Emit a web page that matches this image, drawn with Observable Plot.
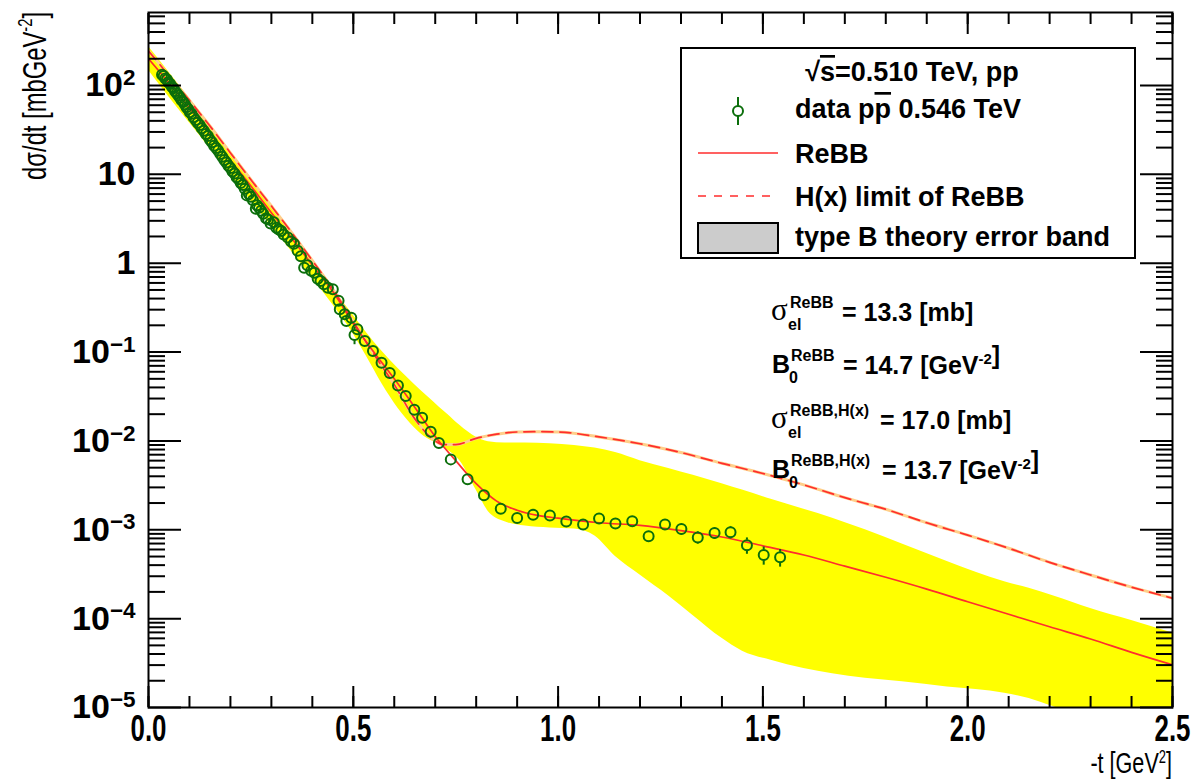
<!DOCTYPE html>
<html><head><meta charset="utf-8">
<script src="https://cdn.jsdelivr.net/npm/d3@7"></script>
<script src="https://cdn.jsdelivr.net/npm/@observablehq/plot@0.6"></script>
<style>
html,body{margin:0;padding:0;background:#fff;}
#wrap{position:relative;width:1201px;height:781px;overflow:hidden;}
</style></head><body><div id="wrap"></div><script>
// ---------- data ----------
const dataT = [0.033,0.037,0.041,0.045,0.049,0.053,0.057,0.061,0.065,0.069,0.073,0.077,0.081,0.085,0.089,0.093,0.097,0.101,0.105,0.110,0.115,0.120,0.125,0.130,0.135,0.140,0.145,0.150,0.155,0.160,0.165,0.170,0.175,0.180,0.185,0.190,0.195,0.200,0.205,0.210,0.215,0.220,0.225,0.230,0.235,0.240,0.245,0.250,0.255,0.262,0.265,0.270,0.275,0.280,0.287,0.292,0.298,0.306,0.312,0.318,0.324,0.330,0.340,0.348,0.355,0.364,0.372,0.380,0.388,0.397,0.405,0.413,0.420,0.428,0.438,0.450,0.464,0.467,0.479,0.483,0.495,0.503,0.510,0.528,0.548,0.569,0.589,0.609,0.628,0.649,0.668,0.689,0.709,0.738,0.779,0.819,0.860,0.900,0.939,0.980,1.020,1.061,1.100,1.140,1.181,1.221,1.261,1.301,1.341,1.382,1.421,1.461,1.502,1.542];
const dataY = [132,128,120,117,108,104,97,93,86,82,77,73,68,65,61,57,54,50,48,44,41,38,36,33,31,28.5,27,24.5,23,21,19.8,18.5,17,15.8,14.5,13.6,12.5,11.8,10.8,10.2,9.3,8.8,8.0,7.6,6.9,5.8,6.0,5.6,5.1,4.1,4.5,4.2,3.9,3.6,3.2,3.1,2.8,2.9,2.5,2.4,2.3,2.1,1.95,1.75,1.66,1.38,1.2,0.89,0.95,0.82,0.78,0.67,0.63,0.58,0.53,0.51,0.377,0.303,0.267,0.224,0.244,0.156,0.181,0.133,0.103,0.076,0.058,0.042,0.032,0.0224,0.0182,0.0127,0.0095,0.0062,0.0037,0.00245,0.00173,0.00136,0.00148,0.00145,0.00124,0.00115,0.00134,0.00118,0.00125,0.000845,0.00115,0.00102,0.00082,0.00092,0.00094,0.00067,0.00052,0.00049];
const dataErr = [4,4,4,3.5,3.3,3.1,2.9,2.8,2.6,2.5,2.3,2.2,2.0,2.0,1.8,1.7,1.6,1.5,1.4,1.3,1.2,1.1,1.1,1.0,0.9,0.9,0.8,0.7,0.7,0.6,0.6,0.6,0.5,0.5,0.4,0.4,0.4,0.4,0.3,0.3,0.3,0.3,0.25,0.25,0.2,0.2,0.2,0.2,0.15,0.15,0.15,0.15,0.12,0.12,0.1,0.1,0.1,0.1,0.08,0.08,0.08,0.07,0.07,0.06,0.06,0.05,0.05,0.04,0.04,0.04,0.03,0.03,0.03,0.03,0.03,0.03,0.02,0.02,0.02,0.015,0.015,0.035,0.012,0.01,0.008,0.006,0.005,0.004,0.003,0.002,0.0017,0.0012,0.001,0.0007,0.0004,0.0003,0.0002,0.00017,0.00018,0.00018,0.00016,0.00015,0.00017,0.00016,0.00017,0.00012,0.00016,0.00015,0.00013,0.00014,0.00015,0.00014,0.00012,0.00011];

const rebbT = [0,0.05,0.1,0.15,0.2,0.25,0.3,0.35,0.4,0.45,0.5,0.55,0.6,0.65,0.7,0.75,0.8,0.85,0.9,0.95,1.0,1.1,1.2,1.3,1.4,1.5,1.6,1.7,1.8,1.9,2.0,2.1,2.2,2.3,2.4,2.5];
const rebbY = [200,107,56,29,14.5,7.4,3.7,1.9,0.95,0.48,0.21,0.10,0.050,0.024,0.0112,0.0060,0.0033,0.0021,0.00166,0.00145,0.00135,0.0012,0.00112,0.00098,0.00083,0.00066,0.00052,0.00039,0.000292,0.000215,0.000155,0.000112,0.000081,0.000059,0.0000417,0.0000302];

const hxT = [0,0.05,0.1,0.15,0.2,0.25,0.3,0.35,0.4,0.45,0.5,0.55,0.6,0.65,0.7,0.72,0.75,0.8,0.85,0.9,0.95,1.0,1.1,1.2,1.3,1.4,1.5,1.6,1.7,1.8,1.9,2.0,2.1,2.2,2.3,2.4,2.5];
const hxY = [245,129,68,35,17.4,8.7,4.4,2.2,1.07,0.51,0.22,0.095,0.043,0.0178,0.0100,0.0091,0.0091,0.0107,0.0119,0.0126,0.0127,0.0126,0.0111,0.0093,0.0074,0.0056,0.0043,0.0032,0.0023,0.0017,0.0012,0.00087,0.00062,0.00043,0.00031,0.000226,0.00017];

const bandT  = [0,0.05,0.1,0.15,0.2,0.25,0.3,0.35,0.4,0.45,0.5,0.53,0.57,0.61,0.65,0.68,0.71,0.73,0.76,0.8,0.83,0.87,0.92,0.98,1.04,1.09,1.14,1.2,1.27,1.33,1.4,1.45,1.52,1.6,1.67,1.75,1.84,1.95,2.09,2.15,2.21,2.3,2.4,2.5];
const bandHi = [275,141,72,36,18.2,9.1,4.5,2.2,1.07,0.52,0.26,0.17,0.102,0.065,0.043,0.032,0.024,0.020,0.015,0.011,0.0098,0.0095,0.0095,0.0093,0.0089,0.0083,0.0074,0.0060,0.0049,0.0041,0.0033,0.0028,0.0022,0.0017,0.00135,0.0010,0.00069,0.00044,0.00026,0.00022,0.00018,0.00013,0.000095,0.000069];
const bandLo = [148,74,38,19.5,9.8,5.0,2.6,1.35,0.68,0.34,0.16,0.093,0.044,0.023,0.014,0.0107,0.0091,0.0079,0.0060,0.0028,0.0016,0.00123,0.0011,0.00105,0.00102,0.00085,0.0005,0.00031,0.00018,0.000108,0.00006,0.000043,0.000034,0.0000275,0.000024,0.0000214,0.0000195,0.000017,0.0000145,0.0000126,0.0000102,0.0000079,0.0000063,0.000005];

const xMajor = [0, 0.5, 1, 1.5, 2, 2.5];
const xLabels = ["0.0","0.5","1.0","1.5","2.0","2.5"];
const yMajor = [1e-5,1e-4,1e-3,1e-2,1e-1,1,10,100];
const yLabels = ["10^\u22125","10^\u22124","10^\u22123","10^\u22122","10^\u22121","1","10","10^2"];
const xMinor = d3.range(0, 26).map(k => k / 10);
const yMinor = yMajor.flatMap(d => d3.range(2, 10).map(k => k * d)).filter(v => v <= 663);

// ---------- tables ----------
const points = dataT.map((t, i) => ({t, v: dataY[i], e: dataErr[i]}));
const rebb = rebbT.map((t, i) => ({t, v: rebbY[i]}));
const hx = hxT.map((t, i) => ({t, v: hxY[i]}));
const band = bandT.map((t, i) => ({t, lo: bandLo[i], hi: bandHi[i]}));
const errPts = points.filter(d => d.e / d.v > 0.14);

const SANS = "'Liberation Sans',Arial,sans-serif";
const SERIF = "'Liberation Serif','DejaVu Serif',serif";
const GREEN = "#0b6e0b", RED = "#ff2d2d";
const R = 5;
const blank = () => "";

const plot = Plot.plot({
  width: 1201, height: 781,
  marginLeft: 148, marginRight: 29, marginTop: 12, marginBottom: 74,
  x: {domain: [0, 2.5]},
  y: {type: "log", domain: [1e-5, 663]},
  style: {background: "white", fontFamily: SANS},
  marks: [
    Plot.areaY(band, {x: "t", y1: "lo", y2: "hi", fill: "#ffff00", curve: "monotone-x", clip: true}),
    Plot.line(hx, {x: "t", y: "v", stroke: "#ffcf8a", strokeWidth: 3, curve: "monotone-x", clip: true}),
    Plot.line(hx, {x: "t", y: "v", stroke: RED, strokeWidth: 1.7, strokeDasharray: "11,7", curve: "monotone-x", clip: true}),
    Plot.line(rebb, {x: "t", y: "v", stroke: RED, strokeWidth: 1.7, curve: "monotone-x", clip: true}),
    Plot.ruleX(errPts, {x: "t", y1: d => d.v + d.e, y2: "v", insetBottom: R, stroke: GREEN, strokeWidth: 2}),
    Plot.ruleX(errPts, {x: "t", y1: "v", y2: d => d.v - d.e, insetTop: R, stroke: GREEN, strokeWidth: 2}),
    Plot.dot(points, {x: "t", y: "v", r: R, stroke: GREEN, strokeWidth: 2, fill: "none"}),
    // inward ticks
    Plot.axisX(xMajor, {anchor: "bottom", tickSize: -21, tickFormat: blank, label: null, strokeWidth: 2}),
    Plot.axisX(xMinor, {anchor: "bottom", tickSize: -11, tickFormat: blank, label: null, strokeWidth: 2}),
    Plot.axisX(xMajor, {anchor: "top", tickSize: -21, tickFormat: blank, label: null, strokeWidth: 2}),
    Plot.axisX(xMinor, {anchor: "top", tickSize: -11, tickFormat: blank, label: null, strokeWidth: 2}),
    Plot.axisY(yMajor, {anchor: "left", tickSize: -33, tickFormat: blank, label: null, strokeWidth: 2}),
    Plot.axisY(yMinor, {anchor: "left", tickSize: -17, tickFormat: blank, label: null, strokeWidth: 2}),
    Plot.axisY(yMajor, {anchor: "right", tickSize: -33, tickFormat: blank, label: null, strokeWidth: 2}),
    Plot.axisY(yMinor, {anchor: "right", tickSize: -17, tickFormat: blank, label: null, strokeWidth: 2}),
    // tick labels
    Plot.axisX(xMajor, {anchor: "bottom", tickSize: 0, tickPadding: 7, label: null,
      tickFormat: d => xLabels[xMajor.indexOf(d)], fontSize: 37, fontWeight: "bold", fontFamily: SANS, fill: "black"}),
    Plot.axisY(yMajor, {anchor: "left", tickSize: 0, tickPadding: 13, label: null,
      tickFormat: d => yLabels[yMajor.indexOf(d)], fontSize: 34, fontWeight: "bold", fontFamily: SANS, fill: "black"}),
    Plot.frame({stroke: "black", strokeWidth: 2})
  ]
});
document.getElementById("wrap").appendChild(plot);

const svg = d3.select(plot);
// superscripts in y tick labels
svg.selectAll('g[aria-label="y-axis tick label"] text').each(function() {
  const s = this.textContent;
  if (!s.includes("^")) return;
  const [base, exp] = s.split("^");
  this.textContent = "";
  const t = d3.select(this);
  t.append("tspan").text(base);
  t.append("tspan").attr("dy", "-0.5em").attr("font-size", "0.66em").text(exp);
});
// condensed x tick labels
svg.selectAll('g[aria-label="x-axis tick label"] text').each(function() {
  const tr = this.getAttribute("transform");
  if (tr && tr.includes("translate")) {
    this.setAttribute("transform", tr + " scale(0.7,1)");
  } else {
    const x = +this.getAttribute("x") || 0;
    this.setAttribute("transform", `translate(${x},0) scale(0.7,1) translate(${-x},0)`);
  }
});

// axis titles (condensed)
const yt = svg.append("text").attr("transform", "translate(46,12) rotate(-90) scale(0.7,1)").attr("text-anchor", "end")
  .attr("font-family", SANS).attr("font-size", 34).attr("fill", "black");
yt.append("tspan").text("d\u03c3/dt [mbGeV");
yt.append("tspan").attr("dy", -14).attr("font-size", 21).text("-2");
yt.append("tspan").attr("dy", 14).text("]");

const xt = svg.append("text").attr("transform", "translate(1172,773) scale(0.72,1)").attr("text-anchor", "end")
  .attr("font-family", SANS).attr("font-size", 30).attr("fill", "black");
xt.append("tspan").text("-t [GeV");
xt.append("tspan").attr("dy", -10).attr("font-size", 18).text("2");
xt.append("tspan").attr("dy", 10).text("]");

// legend
const lg = svg.append("g").attr("font-family", SANS).attr("font-weight", "bold").attr("font-size", 27)
  .attr("fill", "black").attr("text-anchor", "start");
lg.append("rect").attr("x", 681).attr("y", 48).attr("width", 454).attr("height", 210)
  .attr("fill", "white").attr("stroke", "black").attr("stroke-width", 2);
const h = lg.append("text").attr("x", 912).attr("y", 81).attr("text-anchor", "middle");
h.append("tspan").text("\u221a");
h.append("tspan").attr("text-decoration", "overline").text("s");
h.append("tspan").text("=0.510 TeV, pp");
lg.append("line").attr("x1", 738).attr("x2", 738).attr("y1", 97).attr("y2", 106).attr("stroke", GREEN).attr("stroke-width", 2);
lg.append("line").attr("x1", 738).attr("x2", 738).attr("y1", 116).attr("y2", 125).attr("stroke", GREEN).attr("stroke-width", 2);
lg.append("circle").attr("cx", 738).attr("cy", 111).attr("r", R).attr("fill", "none").attr("stroke", GREEN).attr("stroke-width", 2);
const d1 = lg.append("text").attr("x", 795).attr("y", 118);
d1.append("tspan").text("data p");
d1.append("tspan").attr("text-decoration", "overline").text("p");
d1.append("tspan").text(" 0.546 TeV");
lg.append("line").attr("x1", 698).attr("x2", 778).attr("y1", 153).attr("y2", 153).attr("stroke", RED).attr("stroke-width", 1.7);
lg.append("text").attr("x", 795).attr("y", 163).text("ReBB");
lg.append("line").attr("x1", 698).attr("x2", 778).attr("y1", 196).attr("y2", 196).attr("stroke", RED).attr("stroke-width", 1.7).attr("stroke-dasharray", "8,8");
lg.append("text").attr("x", 795).attr("y", 206).text("H(x) limit of ReBB");
lg.append("rect").attr("x", 698).attr("y", 223).attr("width", 80).attr("height", 30).attr("fill", "#cccccc").attr("stroke", "black").attr("stroke-width", 2);
lg.append("text").attr("x", 795).attr("y", 246).text("type B theory error band");

// annotations
const an = svg.append("g").attr("font-family", SANS).attr("font-weight", "bold").attr("fill", "black").attr("text-anchor", "start");
function annot(sym, symFont, sup, sub, x0, base, mainX, mainParts) {
  an.append("text").attr("x", x0).attr("y", base).attr("font-family", symFont)
    .attr("font-weight", symFont === SANS ? "bold" : "normal").attr("font-size", symFont === SANS ? 25 : 31).text(sym);
  an.append("text").attr("x", x0 + 19).attr("y", base - 12).attr("font-size", 16).text(sup);
  an.append("text").attr("x", x0 + 17).attr("y", base + 10).attr("font-size", 16).text(sub);
  const m = an.append("text").attr("x", mainX).attr("y", base + 1).attr("font-size", 25);
  mainParts.forEach(p => {
    if (p.sup) { m.append("tspan").attr("dy", -10).attr("font-size", 15).text(p.sup); m.append("tspan").attr("dy", 10).text(""); }
    else m.append("tspan").text(p.t);
  });
}
annot("\u03c3", SERIF, "ReBB", "el", 771, 320, 842, [{t: "= 13.3 [mb]"}]);
annot("B", SANS, "ReBB", "0", 772, 373, 843, [{t: "= 14.7 [GeV"}, {sup: "-2"}, {t: "]"}]);
annot("\u03c3", SERIF, "ReBB,H(x)", "el", 771, 428, 880, [{t: "= 17.0 [mb]"}]);
annot("B", SANS, "ReBB,H(x)", "0", 772, 478, 882, [{t: "= 13.7 [GeV"}, {sup: "-2"}, {t: "]"}]);
</script></body></html>
